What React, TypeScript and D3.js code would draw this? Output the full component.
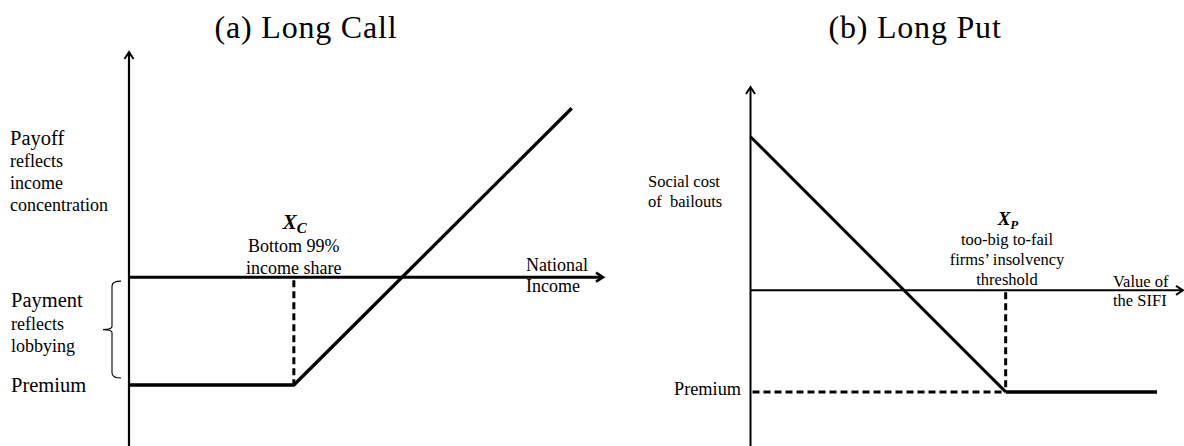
import React from "react";
import * as d3 from "d3";

// Long call: flat at -premium until strike, then slope 1
const callStrike = 35;
const callPremium = 23;
const callPayoff = [
  { x: 0, y: -23 },
  { x: 35, y: -23 },
  { x: 94, y: 36 },
];

// Long put: slope -1 down to strike, then flat at -premium
const putStrike = 59;
const putPremium = 23.5;
const putPayoff = [
  { x: 0, y: 35.5 },
  { x: 59, y: -23.5 },
];
const putFlat = [
  { x: 59, y: -23.5 },
  { x: 94, y: -23.5 },
];

const titles = ["(a) Long Call", "(b) Long Put"];
const callLabelsTop = ["reflects", "income", "concentration"];
const callLabelsMid = ["reflects", "lobbying"];
const callStrikeLabels = ["Bottom 99%", "income share"];
const callXLabel = ["National", "Income"];
const putYLabel = ["Social cost", "of  bailouts"];
const putStrikeLabels = ["too-big to-fail", "firms\u2019 insolvency", "threshold"];
const putXLabel = ["Value of", "the SIFI"];

const FONT = "'Liberation Serif', 'Times New Roman', serif";

type Pt = { x: number; y: number };

const Chevron = ({ x, y, dir, w }: { x: number; y: number; dir: "up" | "right"; w: number }) => {
  const pts =
    dir === "up"
      ? [[x - 4.5, y + 7], [x, y], [x + 4.5, y + 7]]
      : [[x - 7, y - 4.5], [x, y], [x - 7, y + 4.5]];
  return (
    <polyline
      points={pts.map((p) => p.join(",")).join(" ")}
      fill="none"
      stroke="#000"
      strokeWidth={w}
    />
  );
};

const App = () => {
  // panel (a) scales
  const xa = d3.scaleLinear().domain([0, 100]).range([129, 600]);
  const ya = d3.scaleLinear().domain([-36, 48]).range([446, 52]);
  // panel (b) scales
  const xb = d3.scaleLinear().domain([0, 100]).range([750.5, 1183]);
  const yb = d3.scaleLinear().domain([-36, 47]).range([446, 87]);

  const lineA = d3.line<Pt>().x((d) => xa(d.x)).y((d) => ya(d.y));
  const lineB = d3.line<Pt>().x((d) => xb(d.x)).y((d) => yb(d.y));

  const braceX = 112;
  const braceTop = ya(0) + 4;
  const braceBot = ya(-callPremium) - 7;
  const braceMid = (braceTop + braceBot) / 2;
  const brace = `M ${braceX + 9} ${braceTop} Q ${braceX} ${braceTop} ${braceX} ${braceTop + 5}
    L ${braceX} ${braceMid - 3} Q ${braceX} ${braceMid} ${braceX - 9} ${braceMid}
    Q ${braceX} ${braceMid} ${braceX} ${braceMid + 3}
    L ${braceX} ${braceBot - 5} Q ${braceX} ${braceBot} ${braceX + 9} ${braceBot}`;

  return (
    <svg
      width={1184}
      height={446}
      style={{ position: "fixed", left: 0, top: 0, background: "#fff" }}
      fontFamily={FONT}
    >
      {/* titles */}
      <text x={306} y={38} fontSize={32} textAnchor="middle" letterSpacing={0.8}>
        {titles[0]}
      </text>
      <text x={915} y={38} fontSize={32} textAnchor="middle" letterSpacing={0.8}>
        {titles[1]}
      </text>

      {/* ---------- panel (a) ---------- */}
      <line x1={xa(0)} x2={xa(0)} y1={ya(-36)} y2={ya(48)} stroke="#000" strokeWidth={2.2} />
      <Chevron x={xa(0)} y={ya(48)} dir="up" w={2} />
      <line x1={xa(0)} x2={xa(100) + 2} y1={ya(0)} y2={ya(0)} stroke="#000" strokeWidth={3} />
      <Chevron x={xa(100) + 3} y={ya(0)} dir="right" w={2.6} />
      <line
        x1={xa(callStrike)}
        x2={xa(callStrike)}
        y1={ya(0) + 3}
        y2={ya(-callPremium)}
        stroke="#000"
        strokeWidth={3}
        strokeDasharray="7 4"
      />
      <path d={lineA(callPayoff) ?? ""} fill="none" stroke="#000" strokeWidth={3.3} />
      <path d={brace} fill="none" stroke="#000" strokeWidth={1.1} />

      <text x={10} y={145} fontSize={20.5}>Payoff</text>
      {callLabelsTop.map((t, i) => (
        <text key={t} x={10} y={167 + i * 22} fontSize={18}>{t}</text>
      ))}
      <text x={11} y={307} fontSize={20.5}>Payment</text>
      {callLabelsMid.map((t, i) => (
        <text key={t} x={11} y={330 + i * 22} fontSize={18}>{t}</text>
      ))}
      <text x={11} y={392} fontSize={20.5}>Premium</text>

      <text x={xa(callStrike) - 11} y={229} fontSize={21} fontWeight="bold" fontStyle="italic">
        X<tspan fontSize={15} dy={4}>C</tspan>
      </text>
      {callStrikeLabels.map((t, i) => (
        <text key={t} x={xa(callStrike)} y={252 + i * 22} fontSize={18} textAnchor="middle">
          {t}
        </text>
      ))}
      {callXLabel.map((t, i) => (
        <text key={t} x={526} y={271 + i * 21} fontSize={18}>{t}</text>
      ))}

      {/* ---------- panel (b) ---------- */}
      <line x1={xb(0)} x2={xb(0)} y1={yb(-36)} y2={yb(47)} stroke="#000" strokeWidth={2} />
      <Chevron x={xb(0)} y={yb(47)} dir="up" w={2} />
      <line x1={xb(0)} x2={xb(100)} y1={yb(0)} y2={yb(0)} stroke="#000" strokeWidth={2} />
      <Chevron x={xb(100)} y={yb(0)} dir="right" w={2} />
      <line
        x1={xb(0) + 2}
        x2={xb(putStrike)}
        y1={yb(-putPremium)}
        y2={yb(-putPremium)}
        stroke="#000"
        strokeWidth={3}
        strokeDasharray="7 4"
      />
      <line
        x1={xb(putStrike)}
        x2={xb(putStrike)}
        y1={yb(0) + 2}
        y2={yb(-putPremium)}
        stroke="#000"
        strokeWidth={3}
        strokeDasharray="7 4"
      />
      <path d={lineB(putPayoff) ?? ""} fill="none" stroke="#000" strokeWidth={3} />
      <path d={lineB(putFlat) ?? ""} fill="none" stroke="#000" strokeWidth={3.5} />

      {putYLabel.map((t, i) => (
        <text key={t} x={648} y={187 + i * 20} fontSize={16.5} style={{ whiteSpace: "pre" }}>
          {t}
        </text>
      ))}
      <text x={741} y={395} fontSize={18.3} textAnchor="end">Premium</text>

      <text x={xb(putStrike) - 8} y={225} fontSize={19} fontWeight="bold" fontStyle="italic">
        X<tspan fontSize={13} dy={4}>P</tspan>
      </text>
      {putStrikeLabels.map((t, i) => (
        <text key={t} x={1007} y={245 + i * 20} fontSize={16.5} textAnchor="middle">
          {t}
        </text>
      ))}
      {putXLabel.map((t, i) => (
        <text key={t} x={1113} y={287 + i * 19} fontSize={16.5}>{t}</text>
      ))}
    </svg>
  );
};

export default App;
